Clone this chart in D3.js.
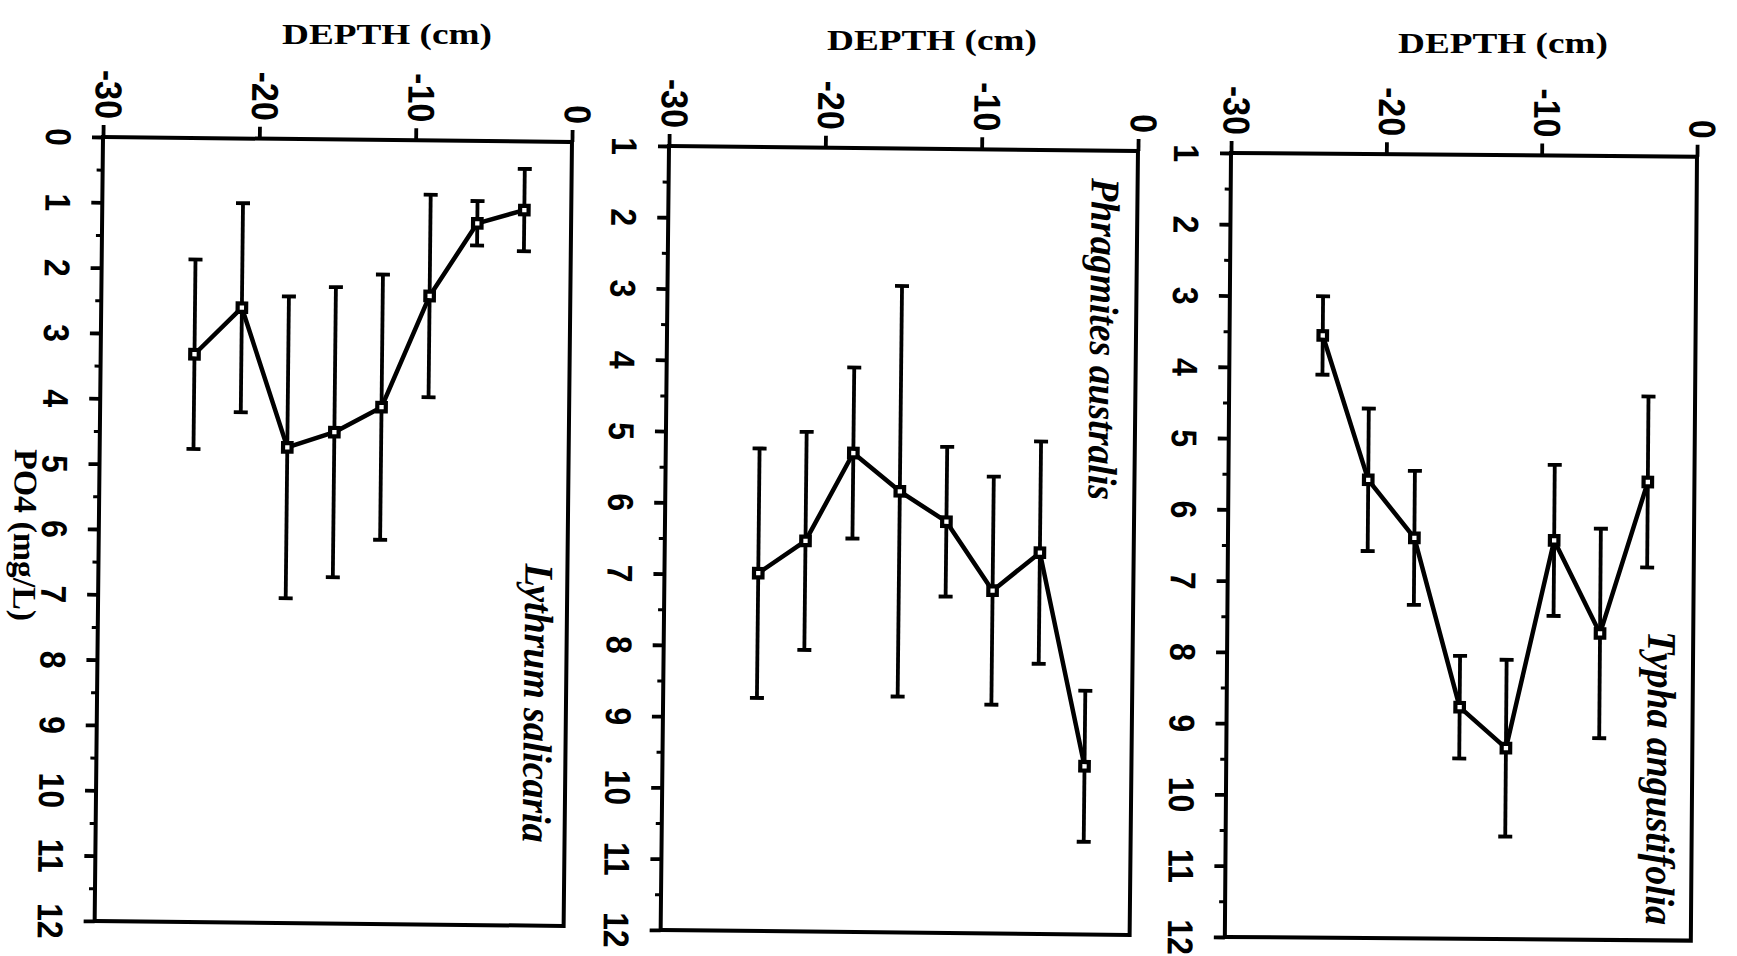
<!DOCTYPE html>
<html>
<head>
<meta charset="utf-8">
<title>PO4 by depth - three wetland plants</title>
<script src="https://d3js.org/d3.v7.min.js"></script>
<style>
    html, body { margin: 0; padding: 0; background: #fff; }
    svg { display: block; }
</style>
</head>
<body>
<svg id="chart" width="1737" height="956"></svg>
<script>
// PO4 (mg/L) profiles against sediment depth, one panel per species

// ---- data ----
var depths = [-3, -6, -9, -12, -15, -18, -21, -24];

var lythrumMean = [1.05, 1.26, 2.38, 4.09, 4.48, 4.72, 2.59, 3.31];
var lythrumSd   = [0.63, 0.34, 1.55, 2.03, 2.22, 2.31, 1.60, 1.45];

var phragmitesMean = [9.64, 6.65, 7.19, 6.23, 5.81, 5.28, 6.52, 6.98];
var phragmitesSd   = [1.06, 1.56, 1.60, 1.05, 2.88, 1.20, 1.53, 1.75];

var typhaMean = [5.57, 7.70, 6.40, 9.32, 8.75, 6.38, 5.57, 3.55];
var typhaSd   = [1.20, 1.47, 1.06, 1.24, 0.72, 0.94, 1.00, 0.55];

var speciesNames = ['Lythrum salicaria', 'Phragmites australis', 'Typha angustifolia'];

var depthTicks = [-30, -20, -10, 0];
var po4TicksFromZero = [0, 1, 2, 3, 4, 5, 6, 7, 8, 9, 10, 11, 12];
var po4TicksFromOne  = [1, 2, 3, 4, 5, 6, 7, 8, 9, 10, 11, 12];
var po4MinorFromZero = [0.5, 1.5, 2.5, 3.5, 4.5, 5.5, 6.5, 7.5, 8.5, 9.5, 10.5, 11.5];
var po4MinorFromOne  = [1.5, 2.5, 3.5, 4.5, 5.5, 6.5, 7.5, 8.5, 9.5, 10.5, 11.5];

var depthTitle = 'DEPTH (cm)';
var po4Title = 'PO4 (mg/L)';

// ---- layout (the scan is tilted a little, so each panel gets a small angle) ----
var H = 784;
var panelLayout = [
    {x: 103,  y: 137, w: 469, angle: 0.61, titleX: 387,  titleY: 44, nameX: 524,  nameY: 703, nameLen: 279},
    {x: 669,  y: 146, w: 469, angle: 0.61, titleX: 932,  titleY: 50, nameX: 1090, nameY: 339, nameLen: 322},
    {x: 1231, y: 153, w: 466, angle: 0.45, titleX: 1503, titleY: 53, nameX: 1647, nameY: 778, nameLen: 294}
];

var sansFont = '"Liberation Sans", Arial, Helvetica, sans-serif';
var serifFont = '"Liberation Serif", "Times New Roman", Times, serif';
var stroke = 3.8;

var series = [
    {name: speciesNames[0], mean: lythrumMean,    sd: lythrumSd,    ticks: po4TicksFromZero, minor: po4MinorFromZero},
    {name: speciesNames[1], mean: phragmitesMean, sd: phragmitesSd, ticks: po4TicksFromOne,  minor: po4MinorFromOne},
    {name: speciesNames[2], mean: typhaMean,      sd: typhaSd,      ticks: po4TicksFromOne,  minor: po4MinorFromOne}
];

var svg = d3.select('#chart');

series.forEach(function(s, k) {
    var L = panelLayout[k];
    var W = L.w;

    var x = d3.scaleLinear().domain([-30, 0]).range([0, W]);
    var y = d3.scaleLinear().domain([s.ticks[0], 12]).range([0, H]);

    var g = svg.append('g')
        .attr('transform', 'translate(' + L.x + ',' + L.y + ') rotate(' + L.angle + ')');

    // frame
    g.append('rect')
        .attr('width', W)
        .attr('height', H)
        .attr('fill', 'none')
        .attr('stroke', '#000')
        .attr('stroke-width', 4);

    // depth axis along the top (plain hyphen, like the original)
    var xAxis = g.append('g')
        .call(d3.axisTop(x).tickValues(depthTicks).tickSize(12).tickSizeOuter(0)
            .tickFormat(function(d) { return String(d); }));
    xAxis.select('.domain').remove();
    xAxis.selectAll('line').attr('stroke', '#000').attr('stroke-width', stroke);
    xAxis.attr('font-family', sansFont).attr('font-size', 34).attr('font-weight', 'bold');
    xAxis.selectAll('text')
        .attr('x', 0).attr('y', 0)
        .attr('dy', '0.22em')
        .attr('fill', '#000')
        .attr('text-anchor', 'end')
        .attr('transform', 'translate(0,-18) rotate(90) scale(1,1.1)');

    // PO4 axis on the left, majors then half-unit minors
    var yAxis = g.append('g')
        .call(d3.axisLeft(y).tickValues(s.ticks).tickSize(11).tickSizeOuter(0));
    yAxis.select('.domain').remove();
    yAxis.selectAll('line').attr('stroke', '#000').attr('stroke-width', stroke);
    yAxis.attr('font-family', sansFont).attr('font-size', 32).attr('font-weight', 'bold');
    yAxis.selectAll('text')
        .attr('x', 0).attr('y', 0)
        .attr('dy', 0)
        .attr('fill', '#000')
        .attr('text-anchor', 'middle')
        .attr('transform', 'translate(-57,0) rotate(90) scale(1,1.12)');

    var yMinor = g.append('g')
        .call(d3.axisLeft(y).tickValues(s.minor).tickSize(6).tickSizeOuter(0).tickFormat(''));
    yMinor.select('.domain').remove();
    yMinor.selectAll('line').attr('stroke', '#000').attr('stroke-width', 3);

    var pts = depths.map(function(d, i) {
        return {depth: d, mean: s.mean[i], sd: s.sd[i]};
    });

    // error bars
    var bars = g.append('g').attr('stroke', '#000').attr('stroke-width', stroke);
    bars.selectAll('.bar')
        .data(pts)
        .enter().append('line')
        .attr('x1', function(d) { return x(d.depth); })
        .attr('x2', function(d) { return x(d.depth); })
        .attr('y1', function(d) { return y(d.mean - d.sd); })
        .attr('y2', function(d) { return y(d.mean + d.sd); });
    [-1, 1].forEach(function(sign) {
        bars.selectAll('.cap' + sign)
            .data(pts)
            .enter().append('line')
            .attr('x1', function(d) { return x(d.depth) - 7; })
            .attr('x2', function(d) { return x(d.depth) + 7; })
            .attr('y1', function(d) { return y(d.mean + sign * d.sd); })
            .attr('y2', function(d) { return y(d.mean + sign * d.sd); });
    });

    // connecting line
    var line = d3.line()
        .x(function(d) { return x(d.depth); })
        .y(function(d) { return y(d.mean); });
    g.append('path')
        .datum(pts)
        .attr('fill', 'none')
        .attr('stroke', '#000')
        .attr('stroke-width', 4.5)
        .attr('stroke-linejoin', 'round')
        .attr('d', line);

    // open square markers
    g.selectAll('.mark')
        .data(pts)
        .enter().append('rect')
        .attr('x', function(d) { return x(d.depth) - 4.25; })
        .attr('y', function(d) { return y(d.mean) - 4.25; })
        .attr('width', 8.5)
        .attr('height', 8.5)
        .attr('fill', '#fff')
        .attr('stroke', '#000')
        .attr('stroke-width', 4.2);

    // depth title above the panel
    svg.append('text')
        .attr('x', L.titleX)
        .attr('y', L.titleY)
        .attr('text-anchor', 'middle')
        .attr('font-family', serifFont)
        .attr('font-weight', 'bold')
        .attr('font-size', 30)
        .attr('textLength', 210)
        .attr('lengthAdjust', 'spacingAndGlyphs')
        .text(depthTitle);

    // species name, rotated, inside the panel
    svg.append('text')
        .attr('transform', 'translate(' + L.nameX + ',' + L.nameY + ') rotate(' + (90 + L.angle) + ') scale(1,1.2)')
        .attr('text-anchor', 'middle')
        .attr('font-family', serifFont)
        .attr('font-weight', 'bold')
        .attr('font-style', 'italic')
        .attr('font-size', 34)
        .attr('textLength', L.nameLen)
        .attr('lengthAdjust', 'spacingAndGlyphs')
        .text(s.name);
});

// PO4 axis title at far left
svg.append('text')
    .attr('transform', 'translate(14,535) rotate(90.6) scale(1,1.1)')
    .attr('text-anchor', 'middle')
    .attr('font-family', serifFont)
    .attr('font-weight', 'bold')
    .attr('font-size', 30)
    .attr('textLength', 172)
    .attr('lengthAdjust', 'spacingAndGlyphs')
    .text(po4Title);
</script>
</body>
</html>
